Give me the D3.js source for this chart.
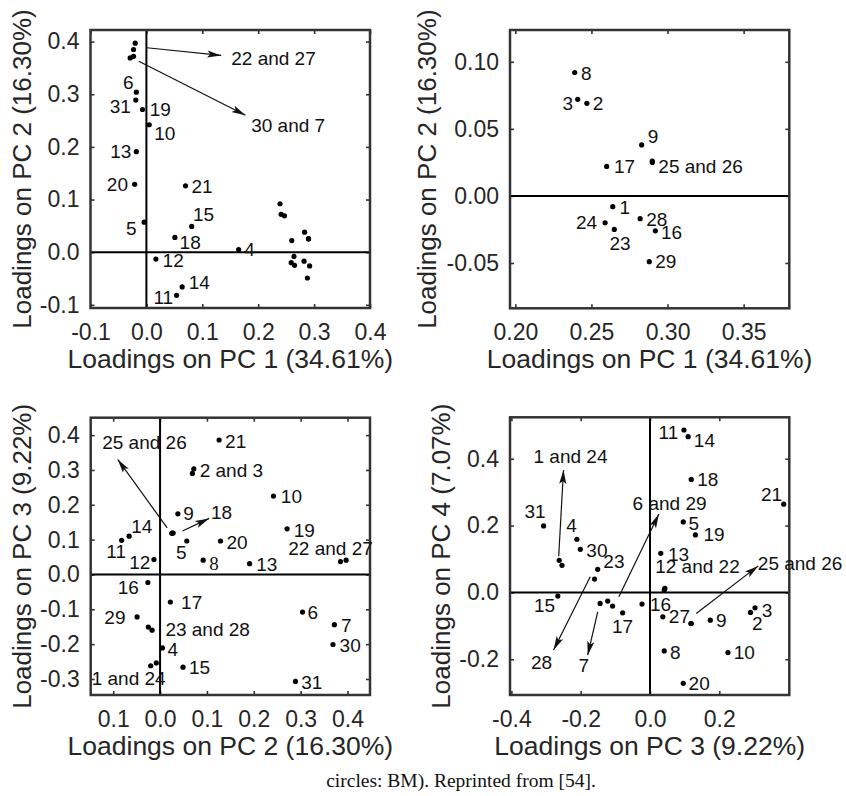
<!DOCTYPE html>
<html>
<head>
<meta charset="utf-8">
<script src="https://cdn.jsdelivr.net/npm/d3@7"></script>
<style>
  body { margin: 0; background: #fff; }
  svg { display: block; }
</style>
</head>
<body>
<svg id="fig" width="846" height="796"></svg>
<script>
// Variable numbers and their loadings on the first four principal components
const variables = [1, 2, 3, 4, 5, 6, 7, 8, 9, 10, 11, 12, 13, 14, 15, 16, 17, 18, 19, 20, 21, 22, 23, 24, 25, 26, 27, 28, 29, 30, 31];
const pc1 = [0.264, 0.247, 0.241, 0.165, -0.004, -0.018, -0.023, 0.239, 0.283, 0.005, 0.054, 0.017, -0.018, 0.064, 0.081, 0.292, 0.260, 0.051, -0.007, -0.021, 0.070, -0.020, 0.265, 0.259, 0.290, 0.290, -0.023, 0.282, 0.288, -0.029, -0.019];
const pc2 = [-0.008, 0.069, 0.072, 0.005, 0.057, 0.304, 0.372, 0.092, 0.038, 0.242, -0.082, -0.013, 0.191, -0.066, 0.049, -0.026, 0.022, 0.028, 0.271, 0.129, 0.126, 0.397, -0.025, -0.020, 0.026, 0.025, 0.385, -0.017, -0.049, 0.369, 0.289];
const pc3 = [-0.254, 0.290, 0.303, -0.211, 0.096, -0.108, -0.144, 0.041, 0.174, 0.225, 0.098, 0.043, 0.031, 0.110, -0.266, -0.023, -0.079, 0.119, 0.131, 0.096, 0.386, 0.041, -0.151, -0.262, 0.119, 0.118, 0.037, -0.160, -0.122, -0.201, -0.307];
const pc4 = [0.081, -0.060, -0.046, 0.159, 0.211, -0.041, -0.033, -0.175, -0.083, -0.180, 0.486, 0.012, 0.117, 0.466, -0.011, -0.035, -0.061, 0.338, 0.172, -0.272, 0.264, 0.007, 0.069, 0.096, -0.093, -0.093, -0.073, 0.040, -0.026, 0.129, 0.199];

const componentNames = ["PC 1", "PC 2", "PC 3", "PC 4"];
const explainedVariance = ["34.61%", "16.30%", "9.22%", "7.07%"];

// Tick values and their printed labels
const ticksWide = [-0.1, 0.0, 0.1, 0.2, 0.3, 0.4];
const labelsWide = ["-0.1", "0.0", "0.1", "0.2", "0.3", "0.4"];
const ticksZoomX = [0.20, 0.25, 0.30, 0.35];
const labelsZoomX = ["0.20", "0.25", "0.30", "0.35"];
const ticksZoomY = [-0.05, 0.00, 0.05, 0.10];
const labelsZoomY = ["-0.05", "0.00", "0.05", "0.10"];
const labelsPC2Bottom = ["0.1", "0.0", "0.1", "0.2", "0.3", "0.4"];
const ticksPC3Y = [-0.3, -0.2, -0.1, 0.0, 0.1, 0.2, 0.3, 0.4];
const labelsPC3Y = ["-0.3", "-0.2", "-0.1", "0.0", "0.1", "0.2", "0.3", "0.4"];
const ticksPC3X = [-0.4, -0.2, 0.0, 0.2];
const labelsPC3X = ["-0.4", "-0.2", "0.0", "0.2"];
const ticksPC4Y = [-0.2, 0.0, 0.2, 0.4];
const labelsPC4Y = ["-0.2", "0.0", "0.2", "0.4"];

const loadings = variables.map((v, i) => ({ id: v, pc: [pc1[i], pc2[i], pc3[i], pc4[i]] }));

// Point labels: [text, anchored variable, dx, dy, text-anchor, font]
const labels1 = [
  ["6", 6, -2.7, -9.3, "end"], ["31", 31, -5, 6, "end"], ["19", 19, 7.3, 0, "start"],
  ["10", 10, 5, 8.3, "start"], ["13", 13, -5, 0, "end"], ["20", 20, -6.7, 0, "end"],
  ["21", 21, 6, 0.7, "start"], ["15", 15, 1.3, -12, "start"], ["5", 5, -7.6, 6, "end"],
  ["18", 18, 4.7, 4.7, "start"], ["4", 4, 5.7, 0, "start"], ["12", 12, 6.7, 1.4, "start"],
  ["14", 14, 6.6, -5, "start"], ["11", 11, -3.4, 2, "end"]
];
const arrows1 = [
  { id: 22, from: [11.6, 4.6], to: [86, 12.3], text: "22 and 27", at: [96, 15], anchor: "start" },
  { id: 30, from: [8.6, 3.3], to: [115.3, 57.3], text: "30 and 7", at: [121, 67.3], anchor: "start" }
];
const labels2 = [
  ["8", 8, 6.4, 1, "start"], ["3", 3, -4.7, 3.6, "end"], ["2", 2, 6, 0, "start"],
  ["9", 9, 6, -8.3, "start"], ["17", 17, 7.3, 0, "start"], ["25 and 26", 25, 6, 5.7, "start"],
  ["1", 1, 6.7, 1, "start"], ["24", 24, -8, 0, "end"], ["23", 23, -4.7, 14, "start"],
  ["28", 28, 6, 0.7, "start"], ["16", 16, 5.7, 1.3, "start"], ["29", 29, 6, 0, "start"]
];
const labels3 = [
  ["21", 21, 6, 1, "start"], ["2 and 3", 2, 7.3, -3, "start"], ["10", 10, 7.4, 0.7, "start"],
  ["9", 9, 5.3, 0, "start"], ["5", 5, -0.3, 11.7, "end"], ["20", 20, 6, 1.7, "start"],
  ["8", 8, 6, 2.7, "start", "serif"], ["13", 13, 6.7, 0.6, "start"], ["19", 19, 6.6, 1.3, "start"],
  ["22 and 27", 22, 26.7, -11.7, "end"], ["14", 14, 2, -10, "start"], ["11", 11, 4.4, 10.7, "end"],
  ["12", 12, -3.6, 2.7, "end"], ["16", 16, -9, 4.7, "end"], ["17", 17, 10.7, 0, "start"],
  ["29", 29, -11.6, 0, "end"], ["23 and 28", 28, 13.3, -0.7, "start"], ["4", 4, 5, 1, "start"],
  ["1 and 24", 24, 15, 12.4, "end"], ["15", 15, 6, 0.7, "start"], ["6", 6, 5, 0.7, "start"],
  ["7", 7, 6.7, 1, "start"], ["30", 30, 6.6, 1, "start"], ["31", 31, 5.7, 1, "start"]
];
const arrows3 = [
  { id: 18, from: [9.3, -2], to: [36, -14.6], text: "18", at: [37.7, -21], anchor: "start" },
  { id: 25, from: [-5.1, -5.2], to: [-54.5, -73.6], text: "25 and 26", at: [-27.8, -90.2], anchor: "middle" }
];
const labels4 = [
  ["11", 11, -5.7, 2.7, "end"], ["14", 14, 5.7, 4, "start"], ["18", 18, 6, 0, "start"],
  ["21", 21, -1.7, -9.7, "end"], ["5", 5, 5.3, 1, "start"], ["19", 19, 8, -1, "start"],
  ["13", 13, 7.3, 0.7, "start"], ["12 and 22", 12, -9.7, -21.6, "start"], ["16", 16, 8, 0, "start"],
  ["27", 27, 6, 0, "start"], ["9", 9, 5.6, 0.7, "start"], ["3", 3, 6.7, 2.3, "start"],
  ["2", 2, 1.6, 10.4, "start"], ["10", 10, 5.7, 0, "start"], ["8", 8, 5.7, 1, "start"],
  ["20", 20, 5.3, 0, "start"], ["31", 31, 2, -14.7, "end"], ["4", 4, 0, -13.6, "end"],
  ["30", 30, 6, 0.7, "start"], ["23", 23, 5.7, -7.6, "start"], ["17", 17, -10.6, 13.3, "start"],
  ["15", 15, -2.7, 9, "end"]
];
const arrows4 = [
  { id: 25, from: [5, -10], to: [67, -57.6], text: "25 and 26", at: [66.6, -60], anchor: "start" },
  { id: 24, from: [-0.5, -4], to: [4.3, -90.3], text: "1 and 24", at: [-25.7, -103.6], anchor: "start" },
  { id: 28, from: [-4.3, -2.3], to: [-41, 71], text: "28", at: [-53.1, 83.7], anchor: "middle" },
  { id: 7, from: [-2.4, 8.4], to: [-12.4, 51.7], text: "7", at: [-16.2, 61.7], anchor: "middle" },
  { id: 6, from: [6.3, -9.3], to: [46.3, -92], text: "6 and 29", at: [20, -102.7], anchor: "start" }
];

const panels = [
  { xi: 0, yi: 1, box: [90.5, 30, 370, 308], xDom: [-0.1, 0.4], yDom: [-0.106, 0.422],
    xTicks: ticksWide, xLabels: labelsWide, yTicks: ticksWide, yLabels: labelsWide,
    yTitleX: 22, labels: labels1, arrows: arrows1 },
  { xi: 0, yi: 1, box: [510, 30, 789.3, 308.3], xDom: [0.1965, 0.38], yDom: [-0.0838, 0.1237],
    xTicks: ticksZoomX, xLabels: labelsZoomX, yTicks: ticksZoomY, yLabels: labelsZoomY,
    yTitleX: 427, labels: labels2, arrows: [] },
  { xi: 1, yi: 2, box: [90.7, 417.7, 370, 695], xDom: [-0.148, 0.448], yDom: [-0.346, 0.45],
    xTicks: ticksWide, xLabels: labelsPC2Bottom, yTicks: ticksPC3Y, yLabels: labelsPC3Y,
    yTitleX: 22, labels: labels3, arrows: arrows3 },
  { xi: 2, yi: 3, box: [510, 417.3, 789.3, 695], xDom: [-0.404, 0.402], yDom: [-0.307, 0.524],
    xTicks: ticksPC3X, xLabels: labelsPC3X, yTicks: ticksPC4Y, yLabels: labelsPC4Y,
    yTitleX: 441, labels: labels4, arrows: arrows4 }
];

const FONT = "'Liberation Sans', Arial, Helvetica, sans-serif";
const svg = d3.select("#fig");

svg.append("defs").append("marker")
  .attr("id", "head")
  .attr("markerUnits", "userSpaceOnUse")
  .attr("viewBox", "0 -5 14 10")
  .attr("refX", 14).attr("refY", 0)
  .attr("markerWidth", 14).attr("markerHeight", 10)
  .attr("orient", "auto")
  .append("path")
  .attr("d", "M0,-3.6L14,0L0,3.6L3,0Z")
  .attr("fill", "#111");

panels.forEach((p, k) => {
  const [x0, y0, x1, y1] = p.box;
  const x = d3.scaleLinear().domain(p.xDom).range([x0, x1]);
  const y = d3.scaleLinear().domain(p.yDom).range([y1, y0]);
  const g = svg.append("g").attr("class", "panel-" + (k + 1));

  const styleAxis = sel => {
    sel.select(".domain").remove();
    sel.selectAll(".tick line").attr("stroke", "#333").attr("stroke-width", 1.6);
    sel.selectAll(".tick text").attr("fill", "#262626")
      .style("font-family", FONT).style("font-size", "23px");
  };

  g.append("g").attr("transform", `translate(0,${y1})`)
    .call(d3.axisBottom(x).tickValues(p.xTicks).tickFormat((d, i) => p.xLabels[i])
      .tickSizeInner(-4).tickSizeOuter(0).tickPadding(15.7))
    .call(styleAxis);
  g.append("g").attr("transform", `translate(0,${y0})`)
    .call(d3.axisTop(x).tickValues(p.xTicks).tickFormat("").tickSizeInner(-4).tickSizeOuter(0))
    .call(styleAxis);
  g.append("g").attr("transform", `translate(${x0},0)`)
    .call(d3.axisLeft(y).tickValues(p.yTicks).tickFormat((d, i) => p.yLabels[i])
      .tickSizeInner(-4).tickSizeOuter(0).tickPadding(11))
    .call(styleAxis);
  g.append("g").attr("transform", `translate(${x1},0)`)
    .call(d3.axisRight(y).tickValues(p.yTicks).tickFormat("").tickSizeInner(-4).tickSizeOuter(0))
    .call(styleAxis);

  // zero reference lines
  if (p.yDom[0] < 0 && p.yDom[1] > 0) {
    g.append("line").attr("x1", x0).attr("x2", x1).attr("y1", y(0)).attr("y2", y(0))
      .attr("stroke", "#000").attr("stroke-width", 2);
  }
  if (p.xDom[0] < 0 && p.xDom[1] > 0) {
    g.append("line").attr("x1", x(0)).attr("x2", x(0)).attr("y1", y0).attr("y2", y1)
      .attr("stroke", "#000").attr("stroke-width", 2);
  }

  // box
  g.append("rect").attr("x", x0).attr("y", y0).attr("width", x1 - x0).attr("height", y1 - y0)
    .attr("fill", "none").attr("stroke", "#333").attr("stroke-width", 2.5);

  // axis titles
  g.append("text")
    .attr("x", (x0 + x1) / 2).attr("y", y1 + 60)
    .attr("text-anchor", "middle")
    .style("font-family", FONT).style("font-size", "26.5px").attr("fill", "#262626")
    .text(`Loadings on ${componentNames[p.xi]} (${explainedVariance[p.xi]})`);
  g.append("text")
    .attr("transform", `translate(${p.yTitleX},${(y0 + y1) / 2}) rotate(-90)`)
    .attr("text-anchor", "middle").attr("dy", "0.35em")
    .style("font-family", FONT).style("font-size", "26px").attr("fill", "#262626")
    .text(`Loadings on ${componentNames[p.yi]} (${explainedVariance[p.yi]})`);

  const inside = loadings.filter(d => {
    const vx = d.pc[p.xi], vy = d.pc[p.yi];
    return vx >= p.xDom[0] && vx <= p.xDom[1] && vy >= p.yDom[0] && vy <= p.yDom[1];
  });
  const pos = id => {
    const d = loadings.find(e => e.id === id);
    return [x(d.pc[p.xi]), y(d.pc[p.yi])];
  };

  // points
  g.append("g").selectAll("circle").data(inside).join("circle")
    .attr("cx", d => x(d.pc[p.xi])).attr("cy", d => y(d.pc[p.yi]))
    .attr("r", 2.6).attr("fill", "#000");

  // leader arrows for crowded groups
  p.arrows.forEach(a => {
    const [px, py] = pos(a.id);
    g.append("line")
      .attr("x1", px + a.from[0]).attr("y1", py + a.from[1])
      .attr("x2", px + a.to[0]).attr("y2", py + a.to[1])
      .attr("stroke", "#111").attr("stroke-width", 1.2)
      .attr("marker-end", "url(#head)");
    g.append("text")
      .attr("x", px + a.at[0]).attr("y", py + a.at[1]).attr("dy", "0.35em")
      .attr("text-anchor", a.anchor)
      .style("font-family", FONT).style("font-size", "19px").attr("fill", "#111")
      .text(a.text);
  });

  // point labels
  g.append("g").selectAll("text").data(p.labels).join("text")
    .attr("x", l => pos(l[1])[0] + l[2])
    .attr("y", l => pos(l[1])[1] + l[3])
    .attr("dy", "0.35em")
    .attr("text-anchor", l => l[4])
    .style("font-family", l => l[5] === "serif" ? "'Liberation Serif', 'Times New Roman', serif" : FONT)
    .style("font-size", "19px").attr("fill", "#111")
    .text(l => l[0]);
});

// caption fragment below the figure
svg.append("text")
  .attr("x", 461).attr("y", 787)
  .attr("text-anchor", "middle")
  .style("font-family", "'Liberation Serif', 'Times New Roman', serif")
  .style("font-size", "19.5px").attr("fill", "#111")
  .text("circles: BM). Reprinted from [54].");
</script>
</body>
</html>
